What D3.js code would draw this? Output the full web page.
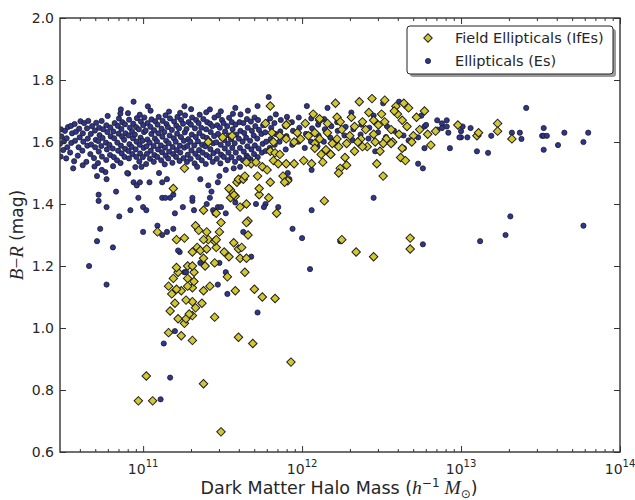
<!DOCTYPE html>
<html>
<head>
<meta charset="utf-8">
<script src="https://cdn.jsdelivr.net/npm/d3@7"></script>
<style>
  body { margin: 0; background: #fff; }
  svg { display: block; font-family: "DejaVu Sans", sans-serif; }
</style>
</head>
<body>
<div class="viz"></div>
<script>
// [log10 halo mass, B-R] for ellipticals in the red band
const esBand = [
  [10.481, 1.553], [10.477, 1.594], [10.486, 1.618], [10.483, 1.641], [10.497, 1.574],
  [10.502, 1.602], [10.508, 1.636], [10.516, 1.547], [10.523, 1.583], [10.519, 1.612],
  [10.527, 1.648], [10.541, 1.566], [10.548, 1.597], [10.553, 1.628], [10.546, 1.652],
  [10.566, 1.538], [10.572, 1.604], [10.577, 1.633], [10.569, 1.658], [10.589, 1.556],
  [10.594, 1.583], [10.601, 1.615], [10.598, 1.643], [10.606, 1.667], [10.618, 1.572],
  [10.624, 1.601], [10.621, 1.628], [10.629, 1.661], [10.643, 1.536], [10.649, 1.588],
  [10.652, 1.611], [10.647, 1.644], [10.655, 1.668], [10.668, 1.561], [10.673, 1.592],
  [10.671, 1.626], [10.679, 1.651], [10.694, 1.521], [10.691, 1.548], [10.698, 1.583],
  [10.702, 1.607], [10.697, 1.637], [10.705, 1.662], [10.716, 1.532], [10.721, 1.569],
  [10.718, 1.603], [10.726, 1.622], [10.723, 1.646], [10.741, 1.553], [10.737, 1.587],
  [10.745, 1.613], [10.748, 1.641], [10.739, 1.668], [10.763, 1.503], [10.768, 1.542],
  [10.772, 1.576], [10.766, 1.598], [10.775, 1.632], [10.769, 1.654], [10.777, 1.684],
  [10.792, 1.558], [10.788, 1.591], [10.796, 1.618], [10.794, 1.647], [10.811, 1.522],
  [10.816, 1.551], [10.809, 1.579], [10.818, 1.612], [10.813, 1.634], [10.821, 1.661],
  [10.836, 1.541], [10.843, 1.572], [10.838, 1.598], [10.846, 1.627], [10.841, 1.652],
  [10.848, 1.676], [10.858, 1.532], [10.865, 1.563], [10.861, 1.588], [10.868, 1.617],
  [10.863, 1.642], [10.869, 1.664], [10.857, 1.692], [10.883, 1.552], [10.887, 1.578],
  [10.881, 1.607], [10.889, 1.628], [10.886, 1.657], [10.906, 1.498], [10.911, 1.547],
  [10.908, 1.571], [10.914, 1.593], [10.909, 1.621], [10.917, 1.646], [10.912, 1.672],
  [10.905, 1.693], [10.932, 1.561], [10.928, 1.584], [10.936, 1.612], [10.931, 1.633],
  [10.938, 1.659], [10.951, 1.519], [10.957, 1.552], [10.953, 1.576], [10.959, 1.601],
  [10.948, 1.624], [10.956, 1.648], [10.961, 1.677], [10.976, 1.537], [10.981, 1.563],
  [10.978, 1.591], [10.984, 1.614], [10.973, 1.641], [10.986, 1.666], [10.979, 1.688],
  [10.998, 1.551], [11.003, 1.581], [10.996, 1.604], [11.006, 1.632], [11.001, 1.654],
  [11.008, 1.679], [11.019, 1.529], [11.024, 1.562], [11.021, 1.586], [11.027, 1.608],
  [11.016, 1.637], [11.028, 1.661], [11.043, 1.546], [11.048, 1.572], [11.041, 1.598],
  [11.052, 1.626], [11.046, 1.649], [11.053, 1.673], [11.047, 1.701], [11.067, 1.536],
  [11.071, 1.558], [11.066, 1.587], [11.074, 1.611], [11.069, 1.638], [11.076, 1.667],
  [11.089, 1.552], [11.094, 1.576], [11.087, 1.602], [11.096, 1.628], [11.091, 1.656],
  [11.098, 1.681], [11.114, 1.541], [11.119, 1.567], [11.112, 1.589], [11.121, 1.617],
  [11.116, 1.643], [11.123, 1.668], [11.136, 1.528], [11.142, 1.556], [11.138, 1.582],
  [11.145, 1.604], [11.133, 1.632], [11.147, 1.658], [11.141, 1.686], [11.158, 1.547],
  [11.164, 1.569], [11.161, 1.596], [11.167, 1.621], [11.156, 1.648], [11.169, 1.676],
  [11.163, 1.698], [11.184, 1.533], [11.189, 1.561], [11.186, 1.584], [11.193, 1.612],
  [11.181, 1.639], [11.195, 1.666], [11.207, 1.552], [11.212, 1.574], [11.205, 1.601],
  [11.214, 1.627], [11.209, 1.653], [11.216, 1.681], [11.229, 1.539], [11.234, 1.566],
  [11.231, 1.588], [11.238, 1.616], [11.226, 1.644], [11.239, 1.671], [11.233, 1.694],
  [11.254, 1.548], [11.259, 1.582], [11.256, 1.604], [11.262, 1.631], [11.251, 1.659],
  [11.264, 1.686], [11.276, 1.536], [11.281, 1.559], [11.278, 1.587], [11.284, 1.609],
  [11.273, 1.642], [11.286, 1.664], [11.299, 1.546], [11.304, 1.573], [11.297, 1.601],
  [11.306, 1.624], [11.301, 1.656], [11.308, 1.679], [11.302, 1.706], [11.324, 1.531],
  [11.328, 1.562], [11.322, 1.589], [11.331, 1.616], [11.326, 1.644], [11.333, 1.671],
  [11.347, 1.551], [11.352, 1.574], [11.345, 1.602], [11.354, 1.629], [11.349, 1.661],
  [11.356, 1.688], [11.369, 1.541], [11.374, 1.566], [11.371, 1.591], [11.377, 1.618],
  [11.366, 1.646], [11.379, 1.674], [11.394, 1.529], [11.398, 1.558], [11.392, 1.586],
  [11.401, 1.613], [11.396, 1.641], [11.403, 1.664], [11.397, 1.696], [11.418, 1.551],
  [11.423, 1.577], [11.416, 1.604], [11.425, 1.632], [11.421, 1.659], [11.438, 1.536],
  [11.443, 1.564], [11.441, 1.596], [11.447, 1.619], [11.436, 1.651], [11.449, 1.679],
  [11.463, 1.546], [11.468, 1.571], [11.461, 1.599], [11.471, 1.626], [11.466, 1.654],
  [11.473, 1.686], [11.486, 1.531], [11.491, 1.559], [11.488, 1.591], [11.494, 1.614],
  [11.483, 1.646], [11.496, 1.671], [11.489, 1.699], [11.508, 1.552], [11.514, 1.579],
  [11.511, 1.606], [11.516, 1.634], [11.506, 1.661], [11.532, 1.541], [11.537, 1.566],
  [11.534, 1.594], [11.539, 1.621], [11.529, 1.651], [11.541, 1.678], [11.556, 1.551],
  [11.561, 1.581], [11.553, 1.609], [11.563, 1.641], [11.558, 1.664], [11.565, 1.691],
  [11.578, 1.536], [11.583, 1.566], [11.576, 1.596], [11.586, 1.624], [11.581, 1.656],
  [11.604, 1.549], [11.609, 1.581], [11.602, 1.611], [11.612, 1.636], [11.606, 1.664],
  [11.613, 1.689], [11.628, 1.541], [11.633, 1.569], [11.626, 1.601], [11.636, 1.629],
  [11.631, 1.661], [11.651, 1.556], [11.656, 1.586], [11.648, 1.614], [11.658, 1.646],
  [11.653, 1.674], [11.659, 1.701], [11.676, 1.544], [11.681, 1.576], [11.673, 1.604],
  [11.684, 1.636], [11.678, 1.666], [11.698, 1.561], [11.703, 1.589], [11.696, 1.621],
  [11.706, 1.651], [11.701, 1.679], [11.721, 1.551], [11.726, 1.579], [11.718, 1.611],
  [11.729, 1.639], [11.723, 1.671], [11.747, 1.566], [11.752, 1.594], [11.744, 1.626],
  [11.755, 1.654], [11.771, 1.571], [11.774, 1.601], [11.768, 1.631], [11.777, 1.664],
  [11.797, 1.581], [11.802, 1.609], [11.806, 1.646], [11.799, 1.676], [11.828, 1.591],
  [11.833, 1.626], [11.826, 1.661], [11.835, 1.689], [11.858, 1.601], [11.863, 1.634],
  [11.866, 1.671], [11.897, 1.576], [11.902, 1.619], [11.894, 1.651], [11.905, 1.681],
  [11.938, 1.591], [11.943, 1.636], [11.936, 1.664], [11.977, 1.601], [11.983, 1.646],
  [11.979, 1.679], [12.017, 1.581], [12.024, 1.626], [12.021, 1.661], [12.056, 1.601],
  [12.063, 1.644], [12.058, 1.676], [12.097, 1.586], [12.104, 1.621], [12.101, 1.656],
  [12.137, 1.601], [12.143, 1.641], [12.139, 1.674], [12.178, 1.614], [12.184, 1.651],
  [12.217, 1.601], [12.224, 1.636], [12.221, 1.664], [12.267, 1.621], [12.274, 1.649],
  [12.318, 1.606], [12.323, 1.641], [12.368, 1.624], [12.374, 1.656], [12.418, 1.611],
  [12.423, 1.646], [12.478, 1.631], [12.528, 1.616], [12.534, 1.651], [12.579, 1.636],
  [12.638, 1.621]
];

// [log10 halo mass, B-R] for ellipticals outside the red band
const esScatter = [
  [10.94, 1.73], [11.79, 1.745], [12.03, 1.716], [11.72, 1.716], [12.16, 1.71],
  [12.73, 1.615], [12.77, 1.65], [12.78, 1.655], [12.85, 1.67], [12.88, 1.66],
  [12.91, 1.67], [12.92, 1.63], [12.91, 1.65], [12.88, 1.645], [12.85, 1.64],
  [12.93, 1.58], [13.00, 1.615], [12.99, 1.615], [13.00, 1.635], [13.04, 1.615],
  [13.06, 1.645], [13.01, 1.65], [13.10, 1.57], [13.17, 1.565], [13.19, 1.62],
  [13.32, 1.63], [13.37, 1.63], [13.38, 1.61], [13.41, 1.71], [13.51, 1.62],
  [13.52, 1.645], [13.52, 1.62], [13.54, 1.62], [13.52, 1.575], [13.61, 1.59],
  [13.65, 1.63], [13.77, 1.60], [13.80, 1.63], [12.76, 1.515], [12.73, 1.53],
  [12.77, 1.58], [12.64, 1.58], [12.67, 1.605], [12.46, 1.57], [12.51, 1.725],
  [12.61, 1.73], [12.75, 1.685], [12.31, 1.695], [12.45, 1.685],
  [12.76, 1.27], [13.12, 1.28], [13.28, 1.30], [13.31, 1.36], [13.77, 1.33],
  [10.72, 1.43], [10.72, 1.41], [10.77, 1.39], [10.83, 1.44], [10.85, 1.36],
  [10.71, 1.49], [10.74, 1.51], [10.77, 1.48], [10.92, 1.38], [10.97, 1.42],
  [11.00, 1.39], [11.02, 1.38], [11.00, 1.31], [10.90, 1.50], [10.94, 1.47],
  [10.96, 1.46], [10.98, 1.47], [11.04, 1.47], [11.10, 1.50], [11.12, 1.47],
  [11.15, 1.48], [11.12, 1.42], [11.17, 1.42], [11.19, 1.43], [11.20, 1.37],
  [11.25, 1.39], [11.31, 1.41], [11.40, 1.40], [11.44, 1.38], [11.47, 1.39],
  [11.52, 1.37], [11.36, 1.48], [11.41, 1.46], [11.47, 1.47], [11.48, 1.49],
  [11.52, 1.51], [11.66, 1.55], [11.61, 1.52], [11.91, 1.50], [11.92, 1.48],
  [12.06, 1.51], [12.06, 1.38], [11.94, 1.32], [12.00, 1.29], [10.81, 1.26],
  [10.73, 1.32], [10.71, 1.28], [10.66, 1.20], [10.77, 1.14], [11.13, 0.95],
  [11.17, 0.84], [11.11, 0.77], [11.20, 0.99], [11.26, 1.18], [11.23, 1.245],
  [11.47, 1.14], [11.52, 1.18], [11.53, 1.11], [11.68, 1.23], [11.72, 1.05],
  [12.05, 1.19], [11.36, 1.21], [11.48, 1.21], [11.09, 1.33], [11.12, 1.30],
  [11.15, 1.31], [11.19, 1.32], [11.14, 1.42], [11.31, 1.42], [11.32, 1.38],
  [11.22, 1.25], [11.27, 1.18], [11.34, 1.32], [11.42, 1.42], [11.43, 1.44],
  [11.49, 1.39], [11.45, 1.37], [11.58, 1.405], [11.71, 1.40], [11.77, 1.40],
  [11.76, 1.39], [11.85, 1.39], [11.63, 1.31], [12.24, 1.28], [12.45, 1.42],
  [10.56, 1.515], [10.62, 1.525], [10.86, 1.705], [11.03, 1.715], [11.26, 1.715],
  [11.42, 1.705], [11.58, 1.71], [10.99, 1.52], [11.34, 1.52], [11.57, 1.515]
];

// [log10 halo mass, B-R] for field ellipticals
const ifesPoints = [
  [10.97, 0.765], [11.06, 0.765], [11.02, 0.845], [11.49, 0.665], [11.38, 0.82],
  [11.93, 0.89], [11.60, 0.97], [11.69, 0.95], [11.31, 0.96], [11.16, 0.985],
  [11.24, 0.975], [11.26, 1.015], [11.22, 1.03], [11.27, 1.03], [11.31, 1.04],
  [11.29, 1.045], [11.17, 1.055], [11.33, 1.065], [11.20, 1.08], [11.31, 1.085],
  [11.27, 1.09], [11.18, 1.11], [11.24, 1.12], [11.21, 1.125], [11.31, 1.13],
  [11.28, 1.135], [11.16, 1.135], [11.32, 1.15], [11.28, 1.16], [11.19, 1.16],
  [11.32, 1.18], [11.22, 1.18], [11.21, 1.195], [11.28, 1.20], [11.31, 1.20],
  [11.31, 1.245], [11.34, 1.26], [11.09, 1.31], [11.21, 1.285], [11.26, 1.29],
  [11.33, 1.33], [11.37, 1.08], [11.38, 1.12], [11.39, 1.20], [11.38, 1.225],
  [11.36, 1.25], [11.42, 1.135], [11.45, 1.035], [11.45, 1.21], [11.51, 1.245],
  [11.53, 1.165], [11.54, 1.23], [11.58, 1.12], [11.61, 1.225], [11.65, 1.225],
  [11.64, 1.18], [11.70, 1.125], [11.75, 1.10], [11.83, 1.095], [11.40, 1.255],
  [11.46, 1.26], [11.41, 1.285], [11.45, 1.28], [11.40, 1.31], [11.48, 1.31],
  [11.46, 1.285], [11.38, 1.285], [11.35, 1.315], [11.57, 1.275], [11.60, 1.255],
  [11.62, 1.26], [11.66, 1.30], [11.66, 1.345], [11.49, 1.34], [11.65, 1.34],
  [11.38, 1.38], [11.46, 1.37], [11.61, 1.39], [11.65, 1.40], [11.55, 1.42],
  [11.58, 1.425], [11.57, 1.43], [11.55, 1.445], [11.73, 1.43], [11.73, 1.45],
  [11.54, 1.45], [11.84, 1.37], [12.14, 1.41], [11.79, 1.42], [11.59, 1.47],
  [11.60, 1.48], [11.63, 1.48], [11.64, 1.49], [11.72, 1.49], [11.80, 1.47],
  [11.88, 1.49], [11.91, 1.475], [11.89, 1.47], [11.75, 1.52], [11.78, 1.51],
  [11.68, 1.53], [11.71, 1.535], [11.65, 1.535], [11.82, 1.54], [11.85, 1.53],
  [11.90, 1.53], [11.95, 1.53], [12.01, 1.54], [12.06, 1.53], [11.80, 1.57],
  [11.83, 1.565], [11.86, 1.56], [11.19, 1.45], [11.26, 1.515], [11.41, 1.60],
  [11.50, 1.615], [11.56, 1.62], [11.80, 1.716], [11.77, 1.66], [11.81, 1.63],
  [11.82, 1.60], [11.91, 1.66], [12.02, 1.66], [12.07, 1.69], [12.11, 1.67],
  [12.16, 1.66], [12.21, 1.725], [11.99, 1.61], [12.04, 1.62], [11.97, 1.63],
  [12.08, 1.63], [12.11, 1.61], [12.08, 1.595], [12.16, 1.63], [12.19, 1.595],
  [12.15, 1.575], [12.08, 1.58], [12.12, 1.56], [12.18, 1.56], [11.90, 1.61],
  [11.95, 1.60], [11.86, 1.62], [11.90, 1.655], [12.22, 1.68], [12.11, 1.675],
  [12.31, 1.68], [12.36, 1.73], [12.44, 1.74], [12.52, 1.735], [12.64, 1.725],
  [12.67, 1.71], [12.77, 1.70], [12.59, 1.715], [12.60, 1.69], [12.50, 1.69],
  [12.42, 1.695], [12.72, 1.68], [12.58, 1.70], [12.25, 1.64], [12.30, 1.62],
  [12.33, 1.65], [12.37, 1.61], [12.40, 1.64], [12.45, 1.625], [12.48, 1.655],
  [12.53, 1.61], [12.56, 1.64], [12.61, 1.625], [12.66, 1.65], [12.70, 1.62],
  [12.74, 1.64], [12.79, 1.625], [12.22, 1.61], [12.28, 1.595], [12.35, 1.60],
  [12.41, 1.585], [12.46, 1.60], [12.51, 1.595], [12.57, 1.60], [12.63, 1.58],
  [12.69, 1.60], [12.24, 1.665], [12.38, 1.665], [12.52, 1.665], [12.63, 1.67],
  [12.45, 1.67], [12.23, 1.585], [12.33, 1.57], [12.38, 1.585], [12.27, 1.55],
  [12.28, 1.525], [12.24, 1.515], [12.23, 1.50], [12.13, 1.535], [12.18, 1.56],
  [12.47, 1.53], [12.51, 1.49], [12.62, 1.55], [12.65, 1.54], [12.49, 1.57],
  [12.56, 1.595], [12.81, 1.59], [12.84, 1.635], [12.98, 1.655], [13.10, 1.62],
  [13.11, 1.63], [13.23, 1.66], [13.23, 1.635], [13.32, 1.61], [12.25, 1.285],
  [12.34, 1.245], [12.45, 1.23], [12.68, 1.29], [12.68, 1.255]
];

const xMajor = [1e11, 1e12, 1e13, 1e14];
const xExponents = ["11", "12", "13", "14"];
const yTicks = [0.6, 0.8, 1.0, 1.2, 1.4, 1.6, 1.8, 2.0];
const legendLabels = ["Field Ellipticals (IfEs)", "Ellipticals (Es)"];

const esPoints = esBand.concat(esScatter);

const width = 635, height = 500;
const x0 = 60, x1 = 620, y0 = 18, y1 = 452;
const dotFill = "#2f3590", diamondFill = "#d2c631", edge = "#1e1e1e", ink = "#262626";

const svg = d3.select(".viz").append("svg")
  .attr("width", width)
  .attr("height", height);

const x = d3.scaleLog().domain([3e10, 1e14]).range([x0, x1]);
const y = d3.scaleLinear().domain([0.6, 2.0]).range([y1, y0]);

svg.append("clipPath").attr("id", "plot-clip")
  .append("rect")
  .attr("x", x0).attr("y", y0)
  .attr("width", x1 - x0).attr("height", y1 - y0);

const plot = svg.append("g").attr("clip-path", "url(#plot-clip)");

plot.selectAll("circle.es")
  .data(esPoints)
  .enter().append("circle")
  .attr("class", "es")
  .attr("cx", d => x(Math.pow(10, d[0])))
  .attr("cy", d => y(d[1]))
  .attr("r", 2.6)
  .attr("fill", dotFill)
  .attr("stroke", edge)
  .attr("stroke-width", 0.8);

const diamond = d3.symbol().type(d3.symbolSquare).size(36);

plot.selectAll("path.ifes")
  .data(ifesPoints)
  .enter().append("path")
  .attr("class", "ifes")
  .attr("d", diamond)
  .attr("transform", d => `translate(${x(Math.pow(10, d[0]))},${y(d[1])}) rotate(45)`)
  .attr("fill", diamondFill)
  .attr("stroke", edge)
  .attr("stroke-width", 1);

// minor ticks for the log axis
const xMinor = [];
for (let e = 10; e < 14; e++) {
  for (let m = 2; m < 10; m++) {
    const v = m * Math.pow(10, e);
    if (v > 3e10 && v < 1e14) xMinor.push(v);
  }
}

function tickAxis(axis, values, size, transform) {
  const g = svg.append("g")
    .attr("transform", transform)
    .call(axis.tickValues(values).tickSize(size).tickFormat(""));
  g.select(".domain").remove();
  g.selectAll(".tick line").attr("stroke", "#333").attr("stroke-width", 1);
  return g;
}

tickAxis(d3.axisBottom(x), xMajor, -6, `translate(0,${y1})`);
tickAxis(d3.axisBottom(x), xMinor, -3, `translate(0,${y1})`);
tickAxis(d3.axisTop(x), xMajor, -6, `translate(0,${y0})`);
tickAxis(d3.axisTop(x), xMinor, -3, `translate(0,${y0})`);
tickAxis(d3.axisLeft(y), yTicks, -6, `translate(${x0},0)`);
tickAxis(d3.axisRight(y), yTicks, -6, `translate(${x1},0)`);

svg.append("rect")
  .attr("x", x0).attr("y", y0)
  .attr("width", x1 - x0).attr("height", y1 - y0)
  .attr("fill", "none")
  .attr("stroke", "#333")
  .attr("stroke-width", 1.4);

// tick labels
svg.append("g").selectAll("text")
  .data(yTicks)
  .enter().append("text")
  .attr("x", x0 - 6)
  .attr("y", d => y(d))
  .attr("dy", "0.36em")
  .attr("text-anchor", "end")
  .attr("font-size", 14)
  .attr("fill", ink)
  .text(d => d.toFixed(1));

const xLab = svg.append("g").selectAll("text")
  .data(xMajor)
  .enter().append("text")
  .attr("x", d => x(d))
  .attr("y", y1 + 22)
  .attr("text-anchor", "middle")
  .attr("font-size", 14)
  .attr("fill", ink);
xLab.append("tspan").text("10");
xLab.append("tspan")
  .attr("dy", -7)
  .attr("font-size", 10)
  .text((d, i) => xExponents[i]);

// axis titles
const math = "Liberation Serif, serif";
const xTitle = svg.append("text")
  .attr("x", 339)
  .attr("y", 494)
  .attr("text-anchor", "middle")
  .attr("font-size", 17.5)
  .attr("fill", ink);
xTitle.append("tspan").text("Dark Matter Halo Mass (");
xTitle.append("tspan").attr("font-family", math).attr("font-style", "italic").attr("font-size", 19.5).text("h");
xTitle.append("tspan").attr("dy", -7).attr("font-size", 12).text("−1");
xTitle.append("tspan").attr("dy", 7).attr("font-family", math).attr("font-style", "italic").attr("font-size", 19.5).text(" M");
xTitle.append("tspan").attr("dy", 4).attr("font-size", 12).text("⊙");
xTitle.append("tspan").attr("dy", -4).text(")");

const yTitle = svg.append("text")
  .attr("transform", `translate(23,${(y0 + y1) / 2}) rotate(-90)`)
  .attr("text-anchor", "middle")
  .attr("font-size", 17)
  .attr("fill", ink);
yTitle.append("tspan").attr("font-family", math).attr("font-style", "italic").attr("font-size", 19).text("B");
yTitle.append("tspan").attr("font-family", math).attr("font-size", 19).text("−");
yTitle.append("tspan").attr("font-family", math).attr("font-style", "italic").attr("font-size", 19).text("R");
yTitle.append("tspan").text(" (mag)");

// legend
const lg = svg.append("g").attr("transform", "translate(407,26)");
lg.append("rect")
  .attr("x", 3).attr("y", 3)
  .attr("width", 206).attr("height", 48)
  .attr("rx", 3)
  .attr("fill", "#999");
lg.append("rect")
  .attr("width", 206).attr("height", 48)
  .attr("rx", 3)
  .attr("fill", "#fff")
  .attr("stroke", "#222")
  .attr("stroke-width", 1);
lg.append("path")
  .attr("d", diamond)
  .attr("transform", "translate(21,12) rotate(45)")
  .attr("fill", diamondFill)
  .attr("stroke", edge)
  .attr("stroke-width", 1);
lg.append("circle")
  .attr("cx", 21).attr("cy", 35)
  .attr("r", 2.6)
  .attr("fill", dotFill)
  .attr("stroke", edge)
  .attr("stroke-width", 0.8);
lg.selectAll("text.lab")
  .data(legendLabels)
  .enter().append("text")
  .attr("class", "lab")
  .attr("x", 48)
  .attr("y", (d, i) => 12 + i * 23)
  .attr("dy", "0.36em")
  .attr("font-size", 14.5)
  .attr("fill", ink)
  .text(d => d);
</script>
</body>
</html>
